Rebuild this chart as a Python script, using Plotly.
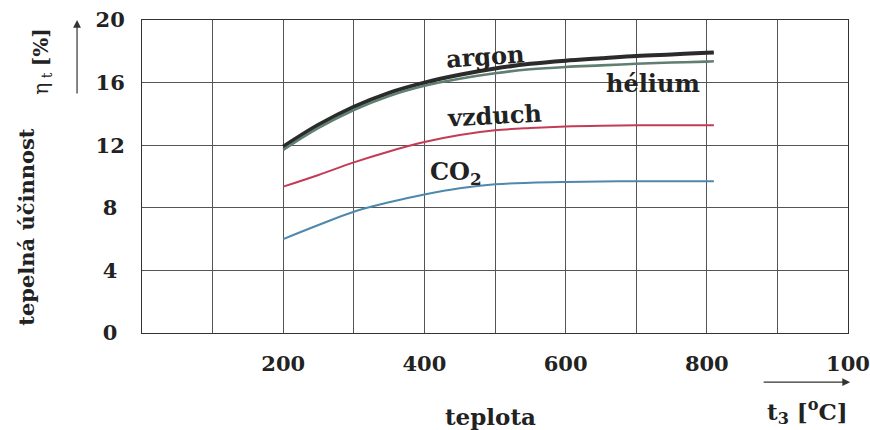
import plotly.graph_objects as go

# data
t3 = [200, 250, 300, 350, 400, 450, 500, 550, 600, 650, 700, 750, 800, 810]
argon = [11.9, 13.3, 14.45, 15.35, 16.0, 16.5, 16.9, 17.2, 17.4, 17.55, 17.7, 17.8, 17.9, 17.92]
helium = [11.7, 13.1, 14.25, 15.15, 15.8, 16.25, 16.6, 16.85, 17.0, 17.1, 17.2, 17.28, 17.34, 17.36]
vzduch = [9.35, 10.1, 10.9, 11.6, 12.2, 12.65, 12.95, 13.1, 13.2, 13.25, 13.27, 13.27, 13.28, 13.28]
co2 = [6.0, 6.9, 7.75, 8.35, 8.85, 9.25, 9.5, 9.6, 9.65, 9.68, 9.7, 9.7, 9.7, 9.7]

x_tickvals = [200, 400, 600, 800, 1000]
x_ticktext = ["200", "400", "600", "800", "100"]
y_tickvals = [0, 4, 8, 12, 16, 20]
y_ticktext = ["0\u00a0", "4\u00a0", "8\u00a0", "12", "16", "20"]

FONT = "DejaVu Serif"

fig = go.Figure()
series = [
    ("argon", argon, "#2b2b2b", 4),
    ("hélium", helium, "#5f7f70", 2.6),
    ("vzduch", vzduch, "#c43b57", 2),
    ("CO2", co2, "#4f88ad", 2),
]
for name, ys, col, w in series:
    fig.add_trace(go.Scatter(x=t3, y=ys, mode="lines", name=name,
                             line=dict(color=col, width=w, shape="spline"),
                             showlegend=False))

C = dict(xanchor="center", yanchor="middle", showarrow=False)
lab = dict(family=FONT, size=24, color="#222", weight="bold")
fig.add_annotation(x=486, y=17.7, text="argon", font=lab, textangle=-4, **C)
fig.add_annotation(x=724, y=15.95, text="hélium", font=lab, **C)
fig.add_annotation(x=499, y=13.9, text="vzduch", font=lab, textangle=-3, **C)
fig.add_annotation(x=445, y=10.2, text="CO<sub>2</sub>", font=lab, **C)

fig.add_annotation(xref="paper", yref="paper", x=0.493, y=-0.268, text="teplota",
                   font=dict(family=FONT, size=23, color="#222", weight="bold"), **C)
fig.add_annotation(xref="paper", yref="paper", x=0.942, y=-0.252,
                   text="t<sub>3</sub> [<sup>o</sup>C]",
                   font=dict(family=FONT, size=23, color="#222", weight="bold"), **C)
fig.add_annotation(xref="paper", yref="paper", x=-0.163, y=0.339, text="tepelná účinnost",
                   font=dict(family=FONT, size=21, color="#222", weight="bold"),
                   textangle=-90, **C)
fig.add_annotation(xref="paper", yref="paper", x=-0.142, y=0.866,
                   text="η<sub> t</sub> <b>[%]</b>",
                   font=dict(family=FONT, size=20, color="#222"), textangle=-90, **C)
# axis arrows
fig.add_annotation(xref="paper", yref="paper", x=1.003, y=-0.157, ax=-88, ay=0,
                   text="", showarrow=True, arrowhead=2, arrowsize=1.3, arrowwidth=1.2,
                   arrowcolor="#333")
fig.add_annotation(xref="paper", yref="paper", x=-0.092, y=1.0, ax=0, ay=75,
                   text="", showarrow=True, arrowhead=2, arrowsize=1.3, arrowwidth=1.2,
                   arrowcolor="#333")

tick_font = dict(family=FONT, size=21, color="#222", weight="bold")
fig.update_xaxes(range=[0, 1000], tickvals=x_tickvals, ticktext=x_ticktext,
                 showgrid=True, gridcolor="#555", gridwidth=1,
                 minor=dict(dtick=100, showgrid=True, gridcolor="#555", gridwidth=1),
                 showline=True, linecolor="#333", linewidth=1, mirror=True,
                 ticks="", ticklabelstandoff=12, tickfont=tick_font, zeroline=False,
                 automargin=False)
fig.update_yaxes(range=[0, 20], tickvals=y_tickvals, ticktext=y_ticktext,
                 showgrid=True, gridcolor="#555", gridwidth=1,
                 showline=True, linecolor="#333", linewidth=1, mirror=True,
                 ticks="", ticklabelstandoff=12, tickfont=tick_font, zeroline=False,
                 automargin=False)

fig.update_layout(width=870, height=430, margin=dict(l=142, r=22, t=20, b=97),
                  plot_bgcolor="white", paper_bgcolor="white")
fig.write_html("out.html", config={"displayModeBar": False},
               post_script="document.body.style.margin='0';document.body.style.overflow='hidden';")
